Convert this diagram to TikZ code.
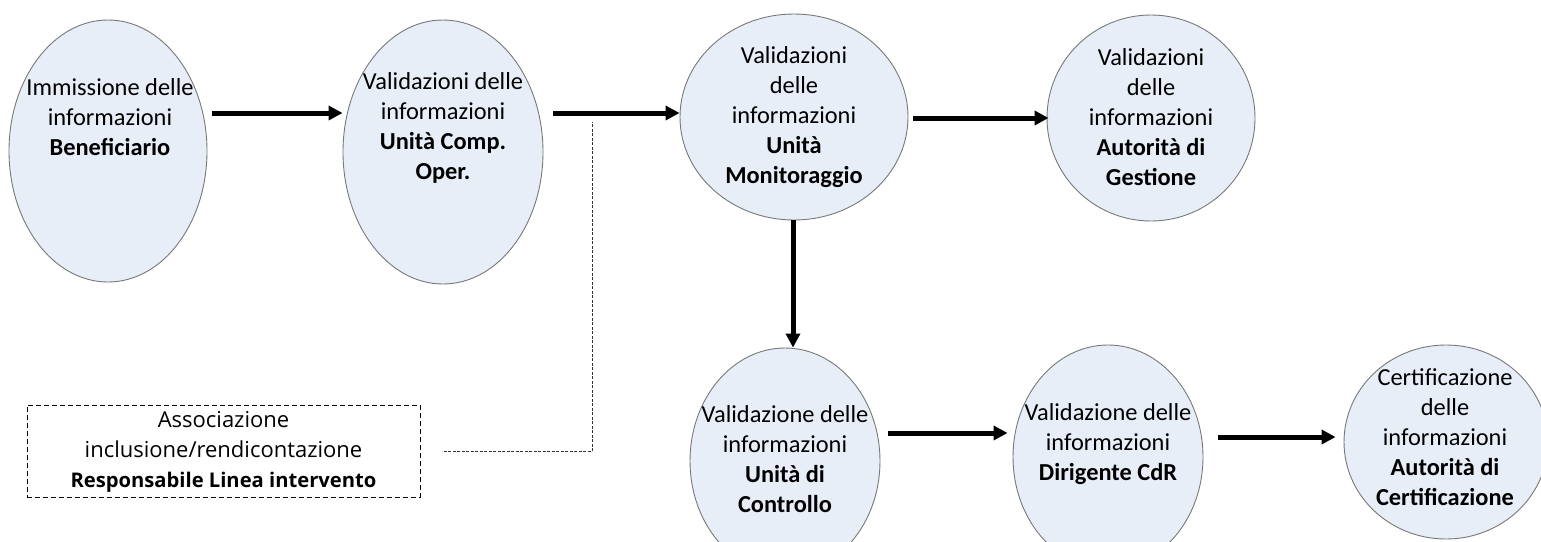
\documentclass[tikz,border=0pt]{standalone}
\usepackage{fontspec}
\setmainfont{Carlito}
\newfontfamily\boxfont{Open Sans}
\usetikzlibrary{shapes.geometric,arrows.meta}
\definecolor{cfill}{RGB}{232,238,248}
\definecolor{cline}{RGB}{120,120,120}
\tikzset{
  bubble/.style={ellipse,draw=cline,line width=0.9pt,fill=cfill,inner sep=0pt},
  btext/.style={align=center,font=\fontsize{24.4}{30}\selectfont,inner sep=0pt},
  arr/.style={line width=5pt,-{Triangle[length=14pt,width=14pt]}},
  dbox/.style={draw=black,line width=1pt,dash pattern=on 5pt off 3pt,minimum width=393pt,minimum height=92pt,inner sep=0pt},
  dline/.style={draw=black!80,line width=0.9pt,dash pattern=on 3pt off 1.5pt},
}
\begin{document}
\begin{tikzpicture}[x=1pt,y=-1pt]
\useasboundingbox[fill=white] (0,0) rectangle (1541,541);
% bubbles
\node[bubble,minimum width=198pt,minimum height=262pt] (c1) at (108,151) {};
\node[bubble,minimum width=200pt,minimum height=264pt] (c2) at (443,152) {};
\node[bubble,minimum width=228pt,minimum height=206pt] (c3) at (794,117) {};
\node[bubble,minimum width=208pt,minimum height=206pt] (c4) at (1151,118) {};
\node[bubble,minimum width=190pt,minimum height=226pt] (c5) at (785,461) {};
\node[bubble,minimum width=190pt,minimum height=224pt] (c6) at (1108,457) {};
\node[bubble,minimum width=204pt,minimum height=194pt] (c7) at (1446,442) {};
% texts
\node[btext] (t1) at (110,117) {Immissione delle\\informazioni\\\textbf{Beneficiario}};
\node[btext] (t2) at (443,128) {Validazioni delle\\informazioni\\\textbf{Unità Comp.}\\\textbf{Oper.}};
\node[btext] (t3) at (794,117) {Validazioni\\delle\\informazioni\\\textbf{Unità}\\\textbf{Monitoraggio}};
\node[btext] (t4) at (1151,117) {Validazioni\\delle\\informazioni\\\textbf{Autorità di}\\\textbf{Gestione}};
\node[btext] (t5) at (785,459) {Validazione delle\\informazioni\\\textbf{Unità di}\\\textbf{Controllo}};
\node[btext] (t6) at (1108,444) {Validazione delle\\informazioni\\\textbf{Dirigente CdR}};
\node[btext] (t7) at (1445,437) {Certificazione\\delle\\informazioni\\\textbf{Autorità di}\\\textbf{Certificazione}};
% dashed box
\node[dbox] (box) at (223.5,451) {};
\node[align=center,inner sep=0pt,font=\boxfont\fontsize{22}{30}\selectfont] (boxt) at (223.5,452)
  {Associazione\\inclusione/rendicontazione\\{\fontsize{20.2}{30}\selectfont\bfseries Responsabile Linea intervento}};
\coordinate (dtop) at (592,122);
\draw[dline] ([xshift=23pt]box.east) -| (dtop);
% arrows
\draw[arr] ([shift={(5,-38)}]c1.east) -- ([shift={(0,-39)}]c2.west);
\draw[arr] ([shift={(10,-39)}]c2.east) -- ([shift={(0,-4)}]c3.west);
\draw[arr] ([shift={(5,1)}]c3.east) -- ([shift={(2,0)}]c4.west);
\draw[arr] ([xshift=-1pt]c3.south) -- ([xshift=-1pt]c3.south |- c5.north);
\draw[arr] ([shift={(8,-28)}]c5.east) -- ([shift={(-5,-24)}]c6.west);
\draw[arr] ([shift={(15,-20)}]c6.east) -- ([shift={(-8,-5)}]c7.west);
\end{tikzpicture}
\end{document}
